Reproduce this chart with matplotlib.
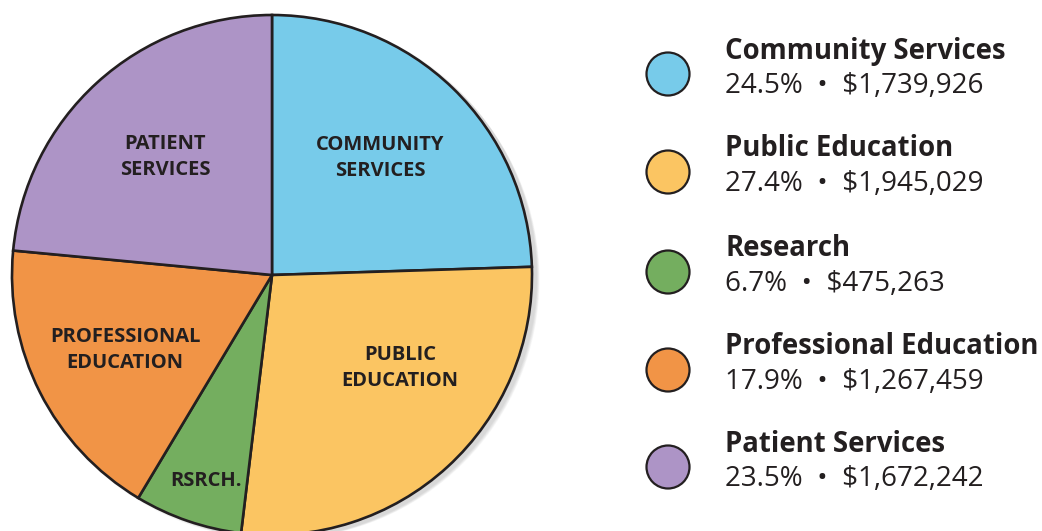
import matplotlib.pyplot as plt
from matplotlib.patches import Circle

# data
categories = ["Community Services", "Public Education", "Research",
              "Professional Education", "Patient Services"]
percents = [24.5, 27.4, 6.7, 17.9, 23.5]
amounts = ["$1,739,926", "$1,945,029", "$475,263", "$1,267,459", "$1,672,242"]
slice_labels = ["COMMUNITY\nSERVICES", "PUBLIC\nEDUCATION", "RSRCH.",
                "PROFESSIONAL\nEDUCATION", "PATIENT\nSERVICES"]
colors = ["#77cbea", "#fbc562", "#74ae5f", "#f19446", "#ad94c6"]

W, H = 1042, 531
ink = "#231f20"
font = ["Open Sans", "DejaVu Sans"]

fig = plt.figure(figsize=(W / 100, H / 100), dpi=100)
ax = fig.add_axes([0, 0, 1, 1])

cx, cy, r = 272, H - 275, 260

# soft drop shadow
for i in range(6):
    ax.add_patch(Circle((cx + 3 + i, cy - 2 - i * 0.5), r + 2 - i * 0.5,
                        color="#7a7a7a", alpha=0.05, lw=0, zorder=0))

ax.pie(percents, colors=colors, startangle=90, counterclock=False,
       center=(cx, cy), radius=r, frame=True,
       wedgeprops=dict(edgecolor=ink, linewidth=1.9))
ax.set_xlim(0, W)
ax.set_ylim(0, H)
ax.set_aspect("equal")
ax.axis("off")

# in-slice labels
label_pos = [(380, 158), (400, 368), (206, 481), (125, 350), (165, 157)]
for txt, (x, y) in zip(slice_labels, label_pos):
    ax.text(x, H - y, txt, ha="center", va="center", fontsize=14.5,
            fontweight="bold", color=ink, family=font, linespacing=1.35)

# legend
row_y = [74, 172, 272, 370, 467]
for name, pct, amt, col, y in zip(categories, percents, amounts, colors, row_y):
    ax.add_patch(Circle((668, H - y), 21.5, facecolor=col, edgecolor=ink,
                        lw=1.6, zorder=3))
    ax.text(725, H - (y - 23), name, ha="left", va="center", fontsize=19.8,
            fontweight="bold", color=ink, family=font)
    ax.text(725, H - (y + 12), f"{pct}%  \u2022  {amt}", ha="left",
            va="center", fontsize=20, color=ink, family=font)

fig.savefig("out.png", dpi=100, facecolor="white")
